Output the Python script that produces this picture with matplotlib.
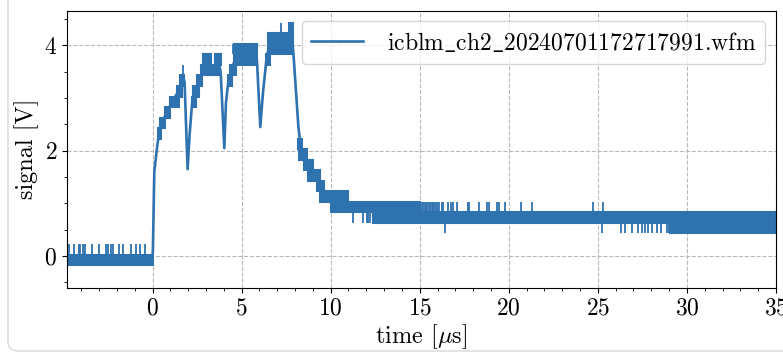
import matplotlib
matplotlib.use('Agg')
import matplotlib.pyplot as plt
from matplotlib.patches import FancyBboxPatch
from matplotlib.transforms import IdentityTransform

plt.rcParams['font.family'] = ['cmr10', 'DejaVu Serif']
plt.rcParams['mathtext.fontset'] = 'cm'
plt.rcParams['axes.formatter.use_mathtext'] = True
plt.rcParams['axes.unicode_minus'] = False

# ---------------- data ----------------
label = r'icblm$\_$ch2$\_$20240701172717991.wfm'

# centre line of the waveform (time in us, signal in V)
trace_t = [-0.02, 0.02, 0.1, 0.25, 0.35, 0.5, 0.75, 1.05, 1.4, 1.6, 1.72, 1.8, 1.97,
           2.08, 2.22, 2.4, 2.6, 2.8, 3.8, 3.84, 4.03, 4.12, 4.25, 4.45, 4.7, 5.84,
           5.88, 6.05, 6.2, 6.4, 6.55, 7.86, 7.92, 8.19, 8.3, 8.45, 8.8, 9.2, 9.5,
           10.0, 10.5, 15.0, 15.0, 35.5]
trace_v = [-0.07, 0.1, 1.6, 2.05, 2.3, 2.5, 2.7, 2.9, 3.1, 3.3, 3.4, 3.3, 1.65,
           2.3, 2.9, 3.1, 3.3, 3.5, 3.55, 3.4, 2.05, 2.9, 3.3, 3.55, 3.8, 3.8,
           3.6, 2.45, 3.1, 3.75, 4.0, 4.05, 3.8, 2.45, 2.13, 1.93, 1.7, 1.5, 1.3,
           1.1, 0.93, 0.93, 0.73, 0.73]

# bands where the digitised signal toggles between adjacent levels
band_t0 = [-4.8, 0.3, 0.43, 0.71, 1.0, 1.37, 1.55, 2.2, 2.3, 2.5, 2.7, 2.85, 3.5,
           4.22, 4.35, 4.55, 6.35, 6.5, 7.65, 8.15, 8.25, 8.5, 8.75, 9.22, 9.4,
           10.0, 12.4, 15.0, 29.05]
band_t1 = [0.0, 0.45, 0.71, 1.0, 1.46, 1.65, 1.78, 2.45, 2.6, 2.8, 3.8, 3.3, 3.82,
           4.45, 4.7, 5.86, 6.6, 7.88, 7.88, 8.4, 8.66, 9.0, 9.4, 9.6, 11.0,
           15.0, 15.0, 35.5, 35.5]
band_lo = [-0.17, 2.23, 2.43, 2.63, 2.83, 3.03, 3.23, 2.83, 3.03, 3.23, 3.43, 3.63, 3.63,
           3.23, 3.43, 3.63, 3.63, 3.83, 4.23, 2.03, 1.83, 1.63, 1.43, 1.23, 1.03,
           0.83, 0.63, 0.63, 0.43]
band_hi = [0.03, 2.43, 2.63, 2.83, 3.03, 3.23, 3.43, 3.03, 3.23, 3.43, 3.63, 3.83, 3.83,
           3.43, 3.63, 4.03, 3.83, 4.23, 4.43, 2.23, 2.03, 1.83, 1.63, 1.43, 1.23,
           1.03, 0.83, 0.83, 0.63]

# single-sample spikes: time, from level, to level
spike_t = [-4.7, -4.42, -4.12, -4.05, -3.9, -3.8, -3.4, -2.98, -2.62, -2.52, -2.35,
           -2.22, -1.88, -1.64, -1.2, -0.95, -0.72, -0.45,
           1.73, 4.5, 7.22,
           11.28, 11.84, 12.03, 12.1, 12.22,
           15.04, 15.11, 15.2, 15.27, 15.36, 15.42, 15.51, 15.58, 15.67, 15.73, 15.83,
           15.9, 15.99, 16.11, 16.24, 16.33, 16.61, 16.74, 16.85, 17.12, 17.73, 17.79,
           18.35, 18.8, 18.91, 19.36, 19.47, 19.79, 20.67, 21.32, 24.75, 25.31,
           16.43, 25.22, 26.28, 26.5, 26.92, 27.25, 27.46, 27.63, 27.8, 28.03, 28.3,
           28.57, 28.9, 29.0]
spike_from = [0.03] * 18 + [3.43, 3.83, 4.23] + [0.83] * 5 + [0.83] * 32 + [0.63] * 14
spike_to = [0.23] * 18 + [3.63, 4.03, 4.43] + [0.63] * 5 + [1.03] * 32 + [0.43] * 14

# ---------------- plot ----------------
C = '#2f72b0'
fig = plt.figure(figsize=(7.83, 3.54), dpi=100)
ax = fig.add_axes([0.0856, 0.1873, 0.9054, 0.7825])

ax.bar(band_t0, [h - l for h, l in zip(band_hi, band_lo)],
       width=[b - a for a, b in zip(band_t0, band_t1)], bottom=band_lo,
       align='edge', color=C, edgecolor=C, linewidth=1.5, zorder=2)
ax.vlines(spike_t, spike_from, spike_to, color=C, linewidth=1.3, zorder=2)
ax.plot(trace_t, trace_v, color=C, linewidth=1.9, label=label, zorder=3)

ax.set_xlim(-4.8, 35.0)
ax.set_ylim(-0.6, 4.66)
ax.set_xticks([0, 5, 10, 15, 20, 25, 30, 35])
ax.set_yticks([0, 2, 4])
ax.set_xticks(range(-4, 36), minor=True)
ax.set_yticks([-0.5, 0.5, 1.0, 1.5, 2.5, 3.0, 3.5, 4.5], minor=True)
ax.tick_params(labelsize=17)
ax.grid(True, which='major', linestyle='--', color='#b8b8b8', linewidth=0.8)
ax.set_axisbelow(True)
ax.set_xlabel(r'time [$\mu$s]', fontsize=17.5, labelpad=2)
ax.set_ylabel('signal [V]', fontsize=17.5, labelpad=4)
leg = ax.legend(loc='upper right', fontsize=17, borderaxespad=0.45,
                handletextpad=1.0, handlelength=2.2)
leg.get_frame().set_linewidth(1.0)

card = FancyBboxPatch((8, 3), 820, 420, boxstyle='round,pad=0,rounding_size=10',
                      transform=IdentityTransform(), facecolor='none',
                      edgecolor='#d8d8d8', linewidth=1.0)
fig.patches.append(card)

fig.savefig('out.png', dpi=100)
